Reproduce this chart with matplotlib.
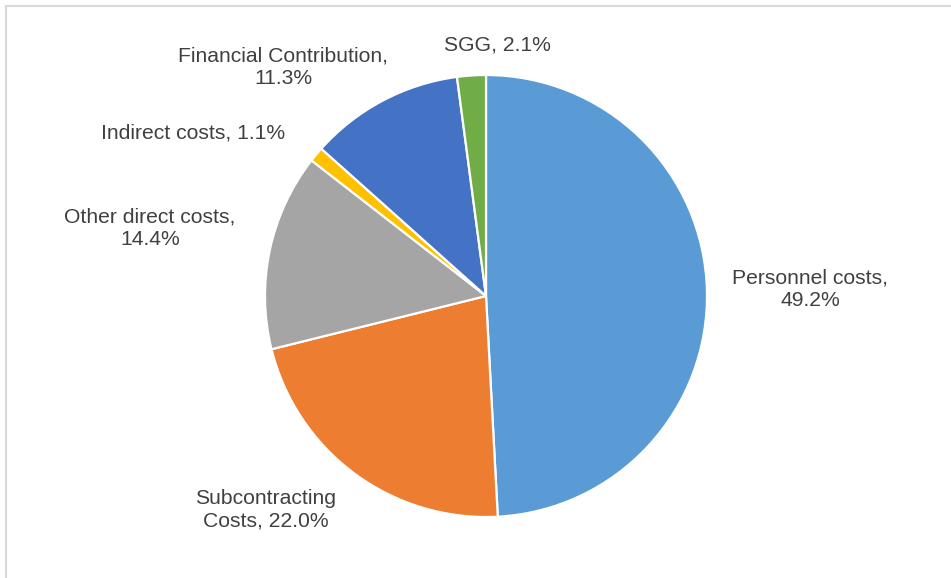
import matplotlib
matplotlib.use("Agg")
import matplotlib.pyplot as plt
from matplotlib.lines import Line2D

plt.rcParams['font.family'] = ['Liberation Sans', 'DejaVu Sans']

categories = ["Personnel costs", "Subcontracting Costs", "Other direct costs",
              "Indirect costs", "Financial Contribution", "SGG"]
shares = [49.2, 22.0, 14.4, 1.1, 11.3, 2.1]
colors = ["#5B9BD5", "#ED7D31", "#A5A5A5", "#FFC000", "#4472C4", "#70AD47"]
label_text = ["Personnel costs,\n49.2%", "Subcontracting\nCosts, 22.0%",
              "Other direct costs,\n14.4%", "Indirect costs, 1.1%",
              "Financial Contribution,\n11.3%", "SGG, 2.1%"]
# label anchor positions in figure pixels (x, y from top)
label_pos = [(810, 289), (266, 510), (150, 228), (193, 133), (283, 67), (497, 45)]

W, H = 951, 578
fig = plt.figure(figsize=(W / 100, H / 100), dpi=100)
fig.patch.set_facecolor("white")

cx, cy, r = 486, 296, 221
ax = fig.add_axes([(cx - r) / W, (H - cy - r) / H, 2 * r / W, 2 * r / H])
ax.pie(shares, colors=colors, startangle=90, counterclock=False, radius=1,
       wedgeprops=dict(edgecolor="white", linewidth=1.6))
ax.set_xlim(-1, 1)
ax.set_ylim(-1, 1)
ax.set_aspect("equal")
ax.axis("off")

for txt, (px, py) in zip(label_text, label_pos):
    fig.text(px / W, 1 - py / H, txt, ha="center", va="center",
             fontsize=15.2, color="#404040", linespacing=1.22)

# chart area border (top and left edges)
fig.add_artist(Line2D([6 / W, 1], [1 - 6 / H, 1 - 6 / H], color="#D9D9D9",
                      linewidth=1.5, transform=fig.transFigure))
fig.add_artist(Line2D([6 / W, 6 / W], [0, 1 - 6 / H], color="#D9D9D9",
                      linewidth=1.5, transform=fig.transFigure))

fig.savefig("out.png", dpi=100)
